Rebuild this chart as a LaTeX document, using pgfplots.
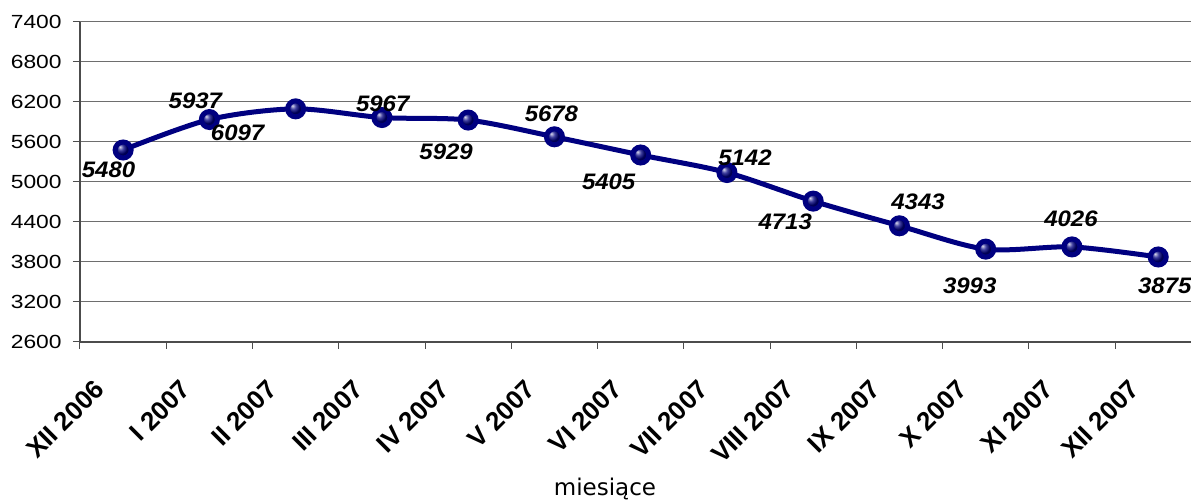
\documentclass[border=0pt]{standalone}
\usepackage{fontspec}
\setmainfont{Liberation Sans}
\newfontfamily\labelfont{DejaVu Sans}
\newfontfamily\tickfont{Liberation Sans}[FakeStretch=1.2]
\newfontfamily\valfont{Liberation Sans}[FakeStretch=1.07]
\usepackage{pgfplots}
\usepackage{pgfplotstable}
\pgfplotsset{compat=1.18}
\usetikzlibrary{calc}

\definecolor{navyline}{RGB}{0,0,128}
\definecolor{gridgray}{RGB}{110,110,110}

% x = month index, y = value, dx/dy = label offset in pt
\pgfplotstableread{
x  y     dx    dy
0  5480  -7.3  -9.8
1  5937  -7.0   9.3
2  6097  -29.0 -12.0
3  5967   0.4   6.8
4  5929  -11.0 -16.0
5  5678  -1.5  11.5
6  5405  -16.0 -13.5
7  5142   9.0   7.5
8  4713  -14.0 -10.5
9  4343   9.3  11.8
10 3993  -8.0  -18.5
11 4026  -0.5  14.0
12 3875   3.3  -14.5
}\datatable

\begin{document}
\begin{tikzpicture}
\begin{axis}[
    name=ax,
    scale only axis,
    width=555.5pt, height=160pt,
    xmin=-0.5, xmax=12.38,
    ymin=2600, ymax=7400,
    ytick={2600,3200,...,7400},
    ymajorgrids,
    grid style={gridgray, line width=0.5pt},
    axis x line*=bottom,
    axis y line*=left,
    axis line style={black!70, line width=0.6pt},
    tick align=outside,
    major tick length=3.5pt,
    tick style={black!70, line width=0.5pt},
    xtick={-0.5,0.5,...,11.5},
    xticklabels={},
    extra x ticks={-0.35,0.65,1.65,2.65,3.65,4.65,5.65,6.65,7.65,8.65,9.65,10.65,11.65},
    extra x tick labels={XII 2006,I 2007,II 2007,III 2007,IV 2007,V 2007,VI 2007,VII 2007,VIII 2007,IX 2007,X 2007,XI 2007,XII 2007},
    extra x tick style={major tick length=0pt},
    xticklabel shift=18pt,
    xticklabel style={rotate=45, anchor=north east, inner sep=0pt,
        font=\fontsize{13}{14}\selectfont\bfseries},
    yticklabel style={inner sep=0pt, xshift=-5.5pt, font=\tickfont\fontsize{9.5}{11}\selectfont},
    /pgf/number format/assume math mode=true,
    /pgf/number format/1000 sep={},
    xlabel={\labelfont miesiące},
    xlabel style={at={(axis description cs:0.4725,0)}, anchor=base, yshift=-77pt,
        font=\fontsize{11.5}{12}\selectfont, inner sep=0pt},
    clip=false,
]
\addplot[
    navyline, line width=2.5pt, smooth, tension=0.5,
    mark=ball, mark size=4pt, mark options={ball color=navyline},
    visualization depends on={\thisrow{dx} \as \dx},
    visualization depends on={\thisrow{dy} \as \dy},
    nodes near coords,
    point meta=y,
    nodes near coords style={anchor=center, xshift=\dx pt, yshift=\dy pt,
        text=black, font=\valfont\fontsize{11.2}{12}\selectfont\bfseries\itshape},
] table[x=x, y=y] {\datatable};
\end{axis}
\pgfresetboundingbox
\useasboundingbox ($(ax.south west)+(-40pt,-79.5pt)$) rectangle ($(ax.north east)+(0pt,11pt)$);
\end{tikzpicture}
\end{document}
